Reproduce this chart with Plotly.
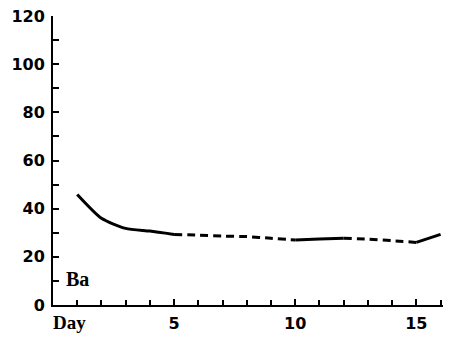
import plotly.graph_objects as go

days = [1, 2, 3, 4, 5, 6, 7, 8, 9, 10, 11, 12, 13, 14, 15, 16]
ba = [45.9, 36.0, 31.8, 30.7, 29.3, 29.0, 28.6, 28.4, 27.7, 27.0, 27.4, 27.7, 27.3, 26.7, 26.0, 29.3]
# segments: (start index, end index, dash)
segments = [(0, 4, "solid"), (4, 9, "8px,5px"), (9, 11, "solid"), (11, 14, "8px,5px"), (14, 15, "solid")]
y_ticks = [0, 20, 40, 60, 80, 100, 120]
x_ticks = [5, 10, 15]

fig = go.Figure()
for s, e, d in segments:
    fig.add_trace(go.Scatter(x=days[s:e + 1], y=ba[s:e + 1], mode="lines",
                             line=dict(color="black", width=3, dash=d, shape="spline", smoothing=0.6),
                             showlegend=False, hoverinfo="skip"))

tf = dict(family="DejaVu Sans", size=16, weight="bold", color="black")
fig.update_layout(
    width=451, height=339,
    margin=dict(l=53, r=8, t=16, b=34),
    plot_bgcolor="white", paper_bgcolor="white",
    font=dict(family="DejaVu Sans", size=16, color="black"),
)
fig.update_xaxes(range=[0, 16.1], showgrid=False, zeroline=False, automargin=False,
                 showline=True, linecolor="black", linewidth=2,
                 tickmode="array", tickvals=x_ticks, ticktext=[str(v) for v in x_ticks],
                 ticks="inside", ticklen=6, tickwidth=2, tickcolor="black",
                 tickfont=tf, ticklabelstandoff=3,
                 minor=dict(tickmode="linear", tick0=0, dtick=1, ticks="inside", ticklen=5, tickwidth=2, tickcolor="black"))
fig.update_yaxes(range=[0, 120], showgrid=False, zeroline=False, automargin=False,
                 showline=True, linecolor="black", linewidth=2,
                 tickmode="array", tickvals=y_ticks,
                 ticks="inside", ticklen=6, tickwidth=2, tickcolor="black",
                 tickfont=tf, ticklabelstandoff=3,
                 minor=dict(tickmode="linear", tick0=0, dtick=10, ticks="inside", ticklen=6, tickwidth=2, tickcolor="black"))

fig.add_annotation(x=0.45, y=11, xref="x", yref="y", text="<b>Ba</b>", showarrow=False,
                   xanchor="left", font=dict(family="Liberation Serif", size=20, color="black"))
fig.add_annotation(x=0.7, y=-0.062, xref="x", yref="paper", text="<b>Day</b>", showarrow=False,
                   yanchor="middle", font=dict(family="Liberation Serif", size=19, color="black"))

fig.write_html("out.html")
